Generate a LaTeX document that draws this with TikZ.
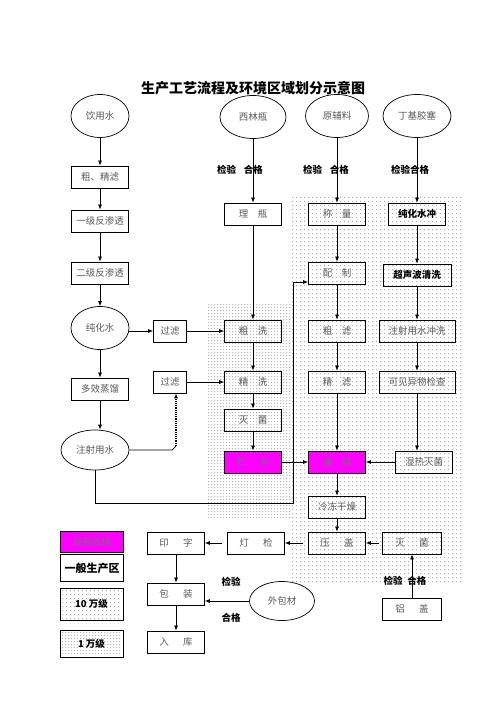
\documentclass[tikz,border=0pt]{standalone}
\usepackage{fontspec}
\setmainfont{Noto Sans CJK SC}
\usepackage{xcolor}
\usepackage{tikz}
\usetikzlibrary{arrows.meta, shapes.geometric, positioning}
\definecolor{hot}{RGB}{255,0,255}
\newcommand\boxtxt{\fontsize{9.5}{11}\selectfont}
\newcommand\tagtxt{\fontsize{9.5}{11}\selectfont\bfseries}
\newcommand\titletxt{\fontsize{14}{16}\selectfont\bfseries}

\begin{document}
\begin{tikzpicture}[x=1pt, y=-1pt, line width=0.7pt,
  box/.style={draw, line width=0.8pt, minimum width=57pt, minimum height=22pt,
              inner sep=0pt, font=\boxtxt, text=black!65},
  wbox/.style={box, minimum width=76pt},
  hotbox/.style={box, fill=hot, text=black!55},
  boldbox/.style={box, font=\tagtxt, text=black},
  src/.style={draw, ellipse, line width=0.7pt, minimum width=58pt,
              minimum height=43pt, inner sep=0pt, font=\boxtxt, text=black!65},
  tag/.style={font=\tagtxt},
  flow/.style={-{Latex[length=5pt,width=4pt]}}]
  \useasboundingbox (0,0) rectangle (503,711);

  % 10 wan class zone (sparse dots)
  \fill[black!32] \foreach \y in {197,201,...,581} {
    \foreach \x in {292,296,...,463} {(\x,\y) rectangle ++(1,1)}};
  % 1 wan class zone (dense dots)
  \fill[black!28] \foreach \y in {304,307,...,519} {
    \foreach \x in {208,211,...,290} {(\x,\y) rectangle ++(1,1)}};
  % legend swatches
  \fill[black!32] \foreach \y in {590,594,...,618} {
    \foreach \x in {62,66,...,121} {(\x,\y) rectangle ++(1,1)}};
  \fill[black!28] \foreach \y in {632,635,...,655} {
    \foreach \x in {62,65,...,121} {(\x,\y) rectangle ++(1,1)}};

  % title
  \node[font=\titletxt] (title) at (253,88) {生产工艺流程及环境区域划分示意图};

  % water line
  \node[src] (yinyong) at (100,116) {饮用水};
  \node[box] (cujing) at (100,177) {粗、精滤};
  \node[box] (yiji) at (100,221) {一级反渗透};
  \node[box] (erji) at (100,273) {二级反渗透};
  \node[src] (chunhua) at (100,328) {纯化水};
  \node[box] (duoxiao) at (100,389) {多效蒸馏};
  \node[src, minimum width=68pt, minimum height=40pt] (zhushe) at (95,450) {注射用水};
  \node[box, minimum width=33pt] (guolv1) at (170,331) {过滤};
  \node[box, minimum width=33pt] (guolv2) at (170,382) {过滤};

  % bottles
  \node[src, minimum width=66pt] (xilin) at (253,117) {西林瓶};
  \node[box] (liping) at (253,214) {理\hspace{1em}瓶};
  \node[box] (cuxi) at (253,331) {粗\hspace{1em}洗};
  \node[box] (jingxi) at (253,382) {精\hspace{1em}洗};
  \node[box] (miejun) at (253,420) {灭\hspace{1em}菌};
  \node[hotbox] (zhucun) at (253,462) {贮\hspace{1.5em}存};

  % materials
  \node[src, minimum width=63pt] (yuanfu) at (337,116) {原辅料};
  \node[box] (chengliang) at (337,214) {称\hspace{1em}量};
  \node[box] (peizhi) at (337,273) {配\hspace{1em}制};
  \node[box] (culv) at (337,331) {粗\hspace{1em}滤};
  \node[box] (jinglv) at (337,382) {精\hspace{1em}滤};
  \node[hotbox] (guanzhuang) at (337,462) {灌\hspace{1em}装};
  \node[box] (lengdong) at (337,507) {冷冻干燥};
  \node[box] (yagai) at (337,543) {压\hspace{1.5em}盖};

  % stoppers
  \node[src, minimum width=68pt] (dingji) at (417,116) {丁基胶塞};
  \node[boldbox] (chunchong) at (417,214) {纯化水冲};
  \node[boldbox, minimum width=68pt] (chaosheng) at (417,275) {超声波清洗};
  \node[wbox] (zhuchong) at (417,331) {注射用水冲洗};
  \node[wbox] (kejian) at (417,382) {可见异物检查};
  \node[box] (shire) at (424,462) {湿热灭菌};
  \node[box, minimum width=59pt] (miejun2) at (412,543) {灭\hspace{1.5em}菌};
  \node[box, minimum width=59pt] (lvgai) at (412,609) {铝\hspace{1.5em}盖};

  % packing
  \node[box] (dengjian) at (256,543) {灯\hspace{1.5em}检};
  \node[box] (yinzi) at (176,543) {印\hspace{1.5em}字};
  \node[box] (baozhuang) at (176,594) {包\hspace{1.5em}装};
  \node[box] (ruku) at (176,642) {入\hspace{1.5em}库};
  \node[src, minimum width=65pt, minimum height=39pt] (waibao) at (282,601) {外包材};

  % check labels
  \node[tag] (jy1) at (240,170) {检验\hspace{0.8em}合格};
  \node[tag] (jy2) at (326,170) {检验\hspace{0.8em}合格};
  \node[tag] (jy3) at (410,170) {检验合格};
  \node[tag] (jy4) at (405,581) {检验\hspace{0.5em}合格};
  \node[tag] (jy5) at (231,582) {检验};
  \node[tag] (hg5) at (231,618) {合格};

  % legend
  \node[hotbox, minimum width=63pt, minimum height=21pt] (lg1) at (92,542) {局部百级};
  \node[box, minimum width=63pt, minimum height=27pt, font=\fontsize{11}{13}\selectfont\bfseries, text=black] (lg2) at (92,568) {一般生产区};
  \node[box, minimum width=63pt, minimum height=32pt, font=\tagtxt, text=black] (lg3) at (91.5,604) {10 万级};
  \node[box, minimum width=63pt, minimum height=27pt, font=\tagtxt, text=black] (lg4) at (91.5,643.5) {1 万级};

  % water flow
  \draw[flow] (yinyong) -- (cujing);
  \draw[flow] (cujing) -- (yiji);
  \draw[flow] (yiji) -- (erji);
  \draw[flow] (erji) -- (chunhua);
  \draw[flow] (chunhua) -- (duoxiao);
  \draw[flow] (duoxiao.south) -- (duoxiao.south |- zhushe.north);
  \draw[flow] (chunhua.east |- guolv1) -- (guolv1);
  \draw[flow] (guolv1) -- (cuxi);
  \draw[flow] (guolv2) -- (jingxi);
  \coordinate (bend1) at (172,450);
  \coordinate (bend2) at (176,446);
  \draw (zhushe.east) -- (bend1) -- (bend2);
  \draw[flow, densely dotted, line width=1.2pt] (bend2) -- (bend2 |- guolv2.south);
  \coordinate (loopb) at (293,503);
  \coordinate (loopc) at (293,282);
  \draw[flow] (zhushe.south) |- (loopb) -- (loopc) -- (loopc -| peizhi.west);

  % bottle flow
  \draw[flow] (xilin) -- (liping);
  \draw[flow] (liping) -- (cuxi);
  \draw[flow] (cuxi) -- (jingxi);
  \draw[flow] (jingxi) -- (miejun);
  \draw[flow] (miejun) -- (zhucun);
  \draw[flow] (zhucun) -- (guanzhuang);

  % material flow
  \draw[flow] (yuanfu) -- (chengliang);
  \draw[flow] (chengliang) -- (peizhi);
  \draw[flow] (peizhi) -- (culv);
  \draw[flow] (culv) -- (jinglv);
  \draw[flow] (jinglv) -- (guanzhuang);
  \draw[flow] (guanzhuang) -- (lengdong);
  \draw[flow] (lengdong) -- (yagai);

  % stopper flow
  \draw[flow] (dingji) -- (chunchong);
  \draw[flow] (chunchong) -- (chaosheng);
  \draw[flow] (chaosheng) -- (zhuchong);
  \draw[flow] (zhuchong) -- (kejian);
  \draw[flow] (kejian.south) -- (kejian.south |- shire.north);
  \draw[flow] (shire) -- (guanzhuang);

  % capping and packing
  \draw[flow] (lvgai) -- (miejun2);
  \draw[flow, shorten <=3pt] (miejun2) -- (yagai);
  \draw[flow, shorten <=5pt] (yagai) -- (dengjian);
  \draw[flow, shorten <=5pt] (dengjian) -- (yinzi);
  \draw[flow] (yinzi) -- (baozhuang);
  \draw[flow] (baozhuang) -- (ruku);
  \draw[flow] (waibao.west) -- (waibao.west -| baozhuang.east);
\end{tikzpicture}
\end{document}
